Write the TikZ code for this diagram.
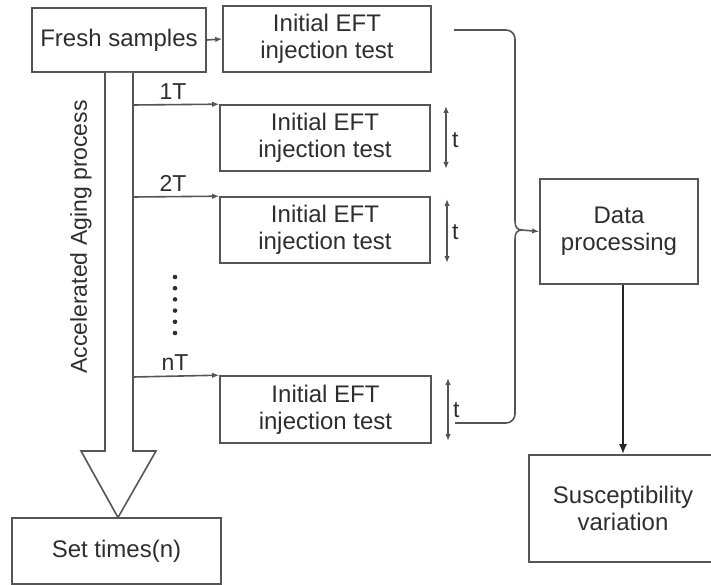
\documentclass[tikz,border=0pt]{standalone}
\usepackage{fontspec}
\setmainfont{Liberation Sans}
\usetikzlibrary{arrows.meta}
\definecolor{ln}{HTML}{555555}
\definecolor{tx}{HTML}{2E2E2E}
\begin{document}
\begin{tikzpicture}[x=1pt,y=-1pt,
  box/.style={draw=ln, line width=1.6pt, text=tx, font=\fontsize{24}{27}\selectfont, align=center, inner sep=0pt},
  conn/.style={draw=ln, line width=1.6pt},
  arr/.style={conn, -{Latex[length=7pt,width=5.5pt]}},
  darr/.style={conn, {Latex[length=7pt,width=5.5pt]}-{Latex[length=7pt,width=5.5pt]}},
  lbl/.style={text=tx, font=\fontsize{23}{25}\selectfont, inner sep=0pt}]
\useasboundingbox (0,0) rectangle (711,585);
% boxes
\node[box, minimum width=174pt, minimum height=64pt] (fresh) at (119,40) {Fresh samples};
\node[box, minimum width=208pt, minimum height=66pt] (b0) at (327,39) {Initial EFT\\injection test};
\node[box, minimum width=210pt, minimum height=66pt] (b1) at (325,138) {Initial EFT\\injection test};
\node[box, minimum width=210pt, minimum height=66pt] (b2) at (325,230) {Initial EFT\\injection test};
\node[box, minimum width=211pt, minimum height=67pt] (bn) at (325.5,409.5) {Initial EFT\\injection test};
\node[box, minimum width=158pt, minimum height=105pt] (data) at (619,231.5) {Data\\processing};
\node[box, minimum width=209pt, minimum height=66pt] (set) at (116.5,551) {Set times(n)};
\node[box, minimum width=188pt, minimum height=107pt] (sus) at (623,508.5) {Susceptibility\\variation};
% hollow aging arrow
\draw[conn, fill=white, line join=miter] (105,72.8) -- (105,451) -- (81,451) -- (118,517.5) -- (156,451) -- (133,451) -- (133,72.8);
\node[text=tx, font=\fontsize{23}{25}\selectfont, rotate=90, inner sep=0pt] (aging) at (81,237) {Accelerated Aging process};
% branch points
\coordinate (p1) at (133,105);
\coordinate (p2) at (133,197);
\coordinate (pn) at (133,377);
\draw[arr] (p1) -- (b1.north west);
\draw[arr] (p2) -- (b2.north west);
\draw[arr] (pn) -- (bn.north west);
\node[lbl] (l1) at (173,92) {1T};
\node[lbl] (l2) at (173,183) {2T};
\node[lbl] (ln) at (175,363) {nT};
\foreach \i in {0,...,5} \fill[tx] (175,277+11.2*\i) circle (2.3pt);
\draw[arr] (fresh.east) -- (b0.west);
% t markers
\coordinate (t1a) at (446,106); \coordinate (t1b) at (446,169);
\coordinate (t2a) at (447,199); \coordinate (t2b) at (447,263);
\coordinate (t3a) at (448,378); \coordinate (t3b) at (448,441);
\draw[darr] (t1a) -- (t1b);
\draw[darr] (t2a) -- (t2b);
\draw[darr] (t3a) -- (t3b);
\node[lbl, anchor=west] (tl1) at (452,140) {t};
\node[lbl, anchor=west] (tl2) at (452,232) {t};
\node[lbl, anchor=west] (tl3) at (453,410) {t};
% brace connector
\coordinate (s0) at (454,30);
\coordinate (sn) at (455,423);
\coordinate (j) at (522,230);
\draw[conn, rounded corners=9pt] (s0) -- (515,30) -- (515,221);
\draw[conn] (515,221) .. controls (515,227) and (517,230) .. (j);
\draw[conn, rounded corners=9pt] (sn) -- (515,423) -- (515,239);
\draw[conn] (515,239) .. controls (515,233) and (517,230) .. (j);
\draw[arr] (j) -- (data.west);
% output
\draw[line width=2pt, draw=black!85, -{Latex[length=10pt,width=8pt]}] (sus.north |- data.south) -- (sus.north);
\end{tikzpicture}
\end{document}
